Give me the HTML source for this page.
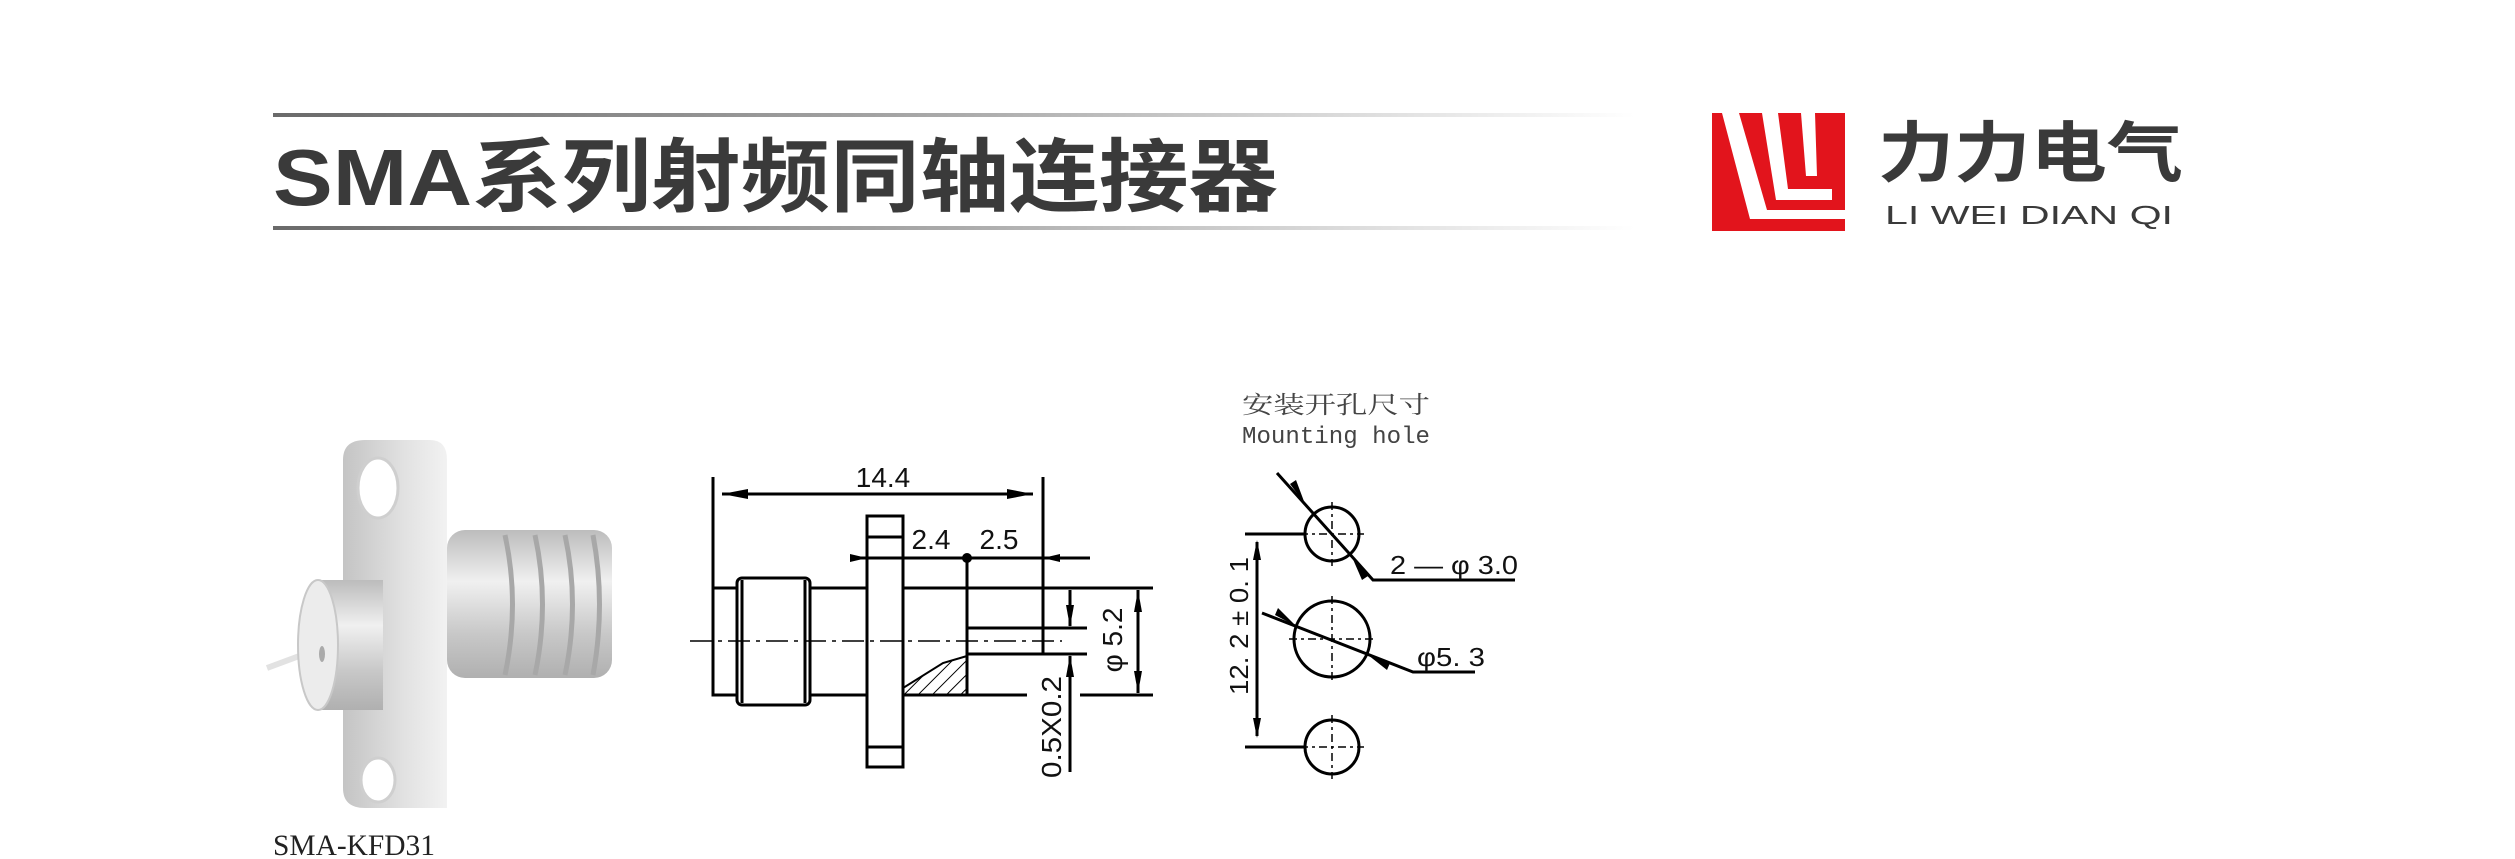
<!DOCTYPE html>
<html><head><meta charset="utf-8"><style>
html,body{margin:0;padding:0;background:#fff;}
svg{display:block;}
</style></head><body>
<svg width="2515" height="859" viewBox="0 0 2515 859" xmlns="http://www.w3.org/2000/svg">
<defs>
<linearGradient id="ln" x1="0" x2="1" y1="0" y2="0">
<stop offset="0" stop-color="#6a6a6a"/><stop offset="0.5" stop-color="#aaaaaa"/><stop offset="1" stop-color="#ffffff"/>
</linearGradient>
<linearGradient id="cyl" x1="0" x2="0" y1="0" y2="1">
<stop offset="0" stop-color="#bcbcbc"/><stop offset="0.35" stop-color="#f0f0f0"/><stop offset="0.7" stop-color="#c8c8c8"/><stop offset="1" stop-color="#b0b0b0"/>
</linearGradient>
<linearGradient id="fl" x1="0" x2="1" y1="0" y2="0">
<stop offset="0" stop-color="#c4c4c4"/><stop offset="0.6" stop-color="#e2e2e2"/><stop offset="1" stop-color="#f2f2f2"/>
</linearGradient>
<pattern id="hatch" width="10" height="10" patternUnits="userSpaceOnUse" patternTransform="rotate(45)">
<line x1="0" y1="0" x2="0" y2="10" stroke="#000" stroke-width="2"/>
</pattern>
</defs>

<rect x="273" y="113" width="1362" height="4" fill="url(#ln)"/>
<rect x="273" y="226" width="1362" height="4" fill="url(#ln)"/>
<text x="273" y="205" font-family="'Liberation Sans','Noto Sans CJK SC',sans-serif" font-weight="bold" font-size="80" fill="#3a3a3a" textLength="1005" lengthAdjust="spacingAndGlyphs">SMA系列射频同轴连接器</text>

<rect x="1712" y="113" width="133" height="118" fill="#e2141c"/>
<polygon points="1722,113 1739,113 1767,210 1845,210 1845,219 1750,219" fill="#fff"/>
<polygon points="1762,113 1778,113 1788,189 1832,189 1832,200 1776,200" fill="#fff"/>
<polygon points="1801,113 1815,113 1817,176 1806,176" fill="#fff"/>
<text x="1878" y="176" font-family="'Noto Sans CJK SC',sans-serif" font-weight="bold" font-size="66" fill="#3a3a3a" textLength="305" lengthAdjust="spacingAndGlyphs">力力电气</text>
<text x="1885" y="224" font-family="'Liberation Sans',sans-serif" font-size="26" fill="#3a3a3a" textLength="288" lengthAdjust="spacingAndGlyphs">LI WEI DIAN QI</text>

<line x1="267" y1="668" x2="310" y2="652" stroke="#e2e2e2" stroke-width="6"/>
<rect x="447" y="530" width="165" height="148" rx="18" fill="url(#cyl)"/>
<g stroke="#a8a8a8" stroke-width="5" fill="none">
<path d="M505 535 Q520 604 505 675"/><path d="M535 535 Q550 604 535 675"/><path d="M565 535 Q580 604 565 675"/><path d="M593 535 Q606 604 593 675"/>
</g>
<path d="M343 460 Q343 440 365 440 L430 440 Q447 440 447 460 L447 808 L365 808 Q343 808 343 788 Z" fill="url(#fl)"/>
<ellipse cx="378" cy="488" rx="20" ry="30" fill="#fff" stroke="#cfcfcf" stroke-width="3"/>
<ellipse cx="378" cy="780" rx="17" ry="22" fill="#fff" stroke="#cfcfcf" stroke-width="3"/>
<rect x="318" y="580" width="65" height="130" fill="url(#cyl)"/>
<ellipse cx="318" cy="645" rx="20" ry="65" fill="#ececec" stroke="#c8c8c8" stroke-width="2"/>
<ellipse cx="322" cy="654" rx="3" ry="8" fill="#aaa"/>
<text x="273" y="855" font-family="'Liberation Serif',serif" font-size="30" fill="#222" textLength="162" lengthAdjust="spacingAndGlyphs">SMA-KFD31</text>

<g stroke="#000" stroke-width="3" fill="none">
<line x1="713" y1="477" x2="713" y2="590"/>
<line x1="1043" y1="477" x2="1043" y2="653"/>
<line x1="722" y1="494" x2="1033" y2="494"/>
<rect x="713" y="588" width="24" height="107"/>
<rect x="737" y="578" width="73" height="127" rx="5"/>
<line x1="742" y1="580" x2="742" y2="703"/><line x1="805" y1="580" x2="805" y2="703"/>
<line x1="810" y1="588" x2="867" y2="588"/><line x1="810" y1="695" x2="867" y2="695"/>
<rect x="867" y="516" width="36" height="251"/>
<line x1="867" y1="537" x2="903" y2="537"/><line x1="867" y1="747" x2="903" y2="747"/>
<line x1="903" y1="588" x2="1153" y2="588"/>
<line x1="903" y1="695" x2="1027" y2="695"/>
<line x1="1080" y1="695" x2="1153" y2="695"/>
<line x1="967" y1="556" x2="967" y2="695"/>
<rect x="967" y="628" width="76" height="26"/>
<line x1="1043" y1="628" x2="1087" y2="628"/><line x1="1043" y1="654" x2="1087" y2="654"/>
<line x1="850" y1="558" x2="1090" y2="558"/>
<line x1="1138" y1="590" x2="1138" y2="693"/>
<line x1="1070" y1="590" x2="1070" y2="626"/>
<line x1="1070" y1="656" x2="1070" y2="772"/>
</g>
<line x1="690" y1="641" x2="1062" y2="641" stroke="#000" stroke-width="1.5" stroke-dasharray="22,6,4,6"/>
<polygon points="903,695 903,688 943,663 967,656 967,695" fill="url(#hatch)" stroke="#000" stroke-width="2"/>
<g fill="#000">
<polygon points="722,494 748,489 748,499"/><polygon points="1033,494 1007,489 1007,499"/>
<polygon points="867,558 850,554 850,562"/><polygon points="1043,558 1060,554 1060,562"/>
<circle cx="967" cy="558" r="5"/>
<polygon points="1138,590 1134,612 1142,612"/><polygon points="1138,693 1134,671 1142,671"/>
<polygon points="1070,627 1066,605 1074,605"/><polygon points="1070,655 1066,677 1074,677"/>
</g>
<g font-family="'Liberation Sans',sans-serif" font-size="28" fill="#111">
<text x="883" y="487" text-anchor="middle">14.4</text>
<text x="931" y="549" text-anchor="middle">2.4</text>
<text x="999" y="549" text-anchor="middle">2.5</text>
<text transform="translate(1122,640) rotate(-90)" text-anchor="middle">φ  5.2</text>
<text transform="translate(1061,727) rotate(-90)" text-anchor="middle" textLength="102" lengthAdjust="spacingAndGlyphs">0.5X0.2</text>
</g>

<text x="1242" y="413" font-family="'Noto Serif CJK SC',serif" font-size="24" fill="#444" textLength="188" lengthAdjust="spacingAndGlyphs">安装开孔尺寸</text>
<text x="1242" y="443" font-family="'Liberation Mono',monospace" font-size="24" fill="#444" textLength="188" lengthAdjust="spacingAndGlyphs">Mounting hole</text>
<g stroke="#000" stroke-width="3" fill="none">
<circle cx="1332" cy="534" r="27"/>
<circle cx="1332" cy="639" r="38"/>
<circle cx="1332" cy="747" r="27"/>
<line x1="1245" y1="534" x2="1305" y2="534"/>
<line x1="1245" y1="747" x2="1305" y2="747"/>
<line x1="1257" y1="542" x2="1257" y2="736"/>
<polyline points="1277,473 1373,580 1515,580"/>
<polyline points="1262,613 1413,672 1475,672"/>
</g>
<g stroke="#000" stroke-width="1.5" stroke-dasharray="8,4,3,4">
<line x1="1332" y1="502" x2="1332" y2="566"/><line x1="1300" y1="534" x2="1364" y2="534"/>
<line x1="1332" y1="596" x2="1332" y2="682"/><line x1="1289" y1="639" x2="1375" y2="639"/>
<line x1="1332" y1="715" x2="1332" y2="779"/><line x1="1300" y1="747" x2="1364" y2="747"/>
</g>
<g fill="#000">
<polygon points="1257,540 1253,560 1261,560"/><polygon points="1257,738 1253,718 1261,718"/>
<polygon points="1305,504 1290,484 1296,480"/><polygon points="1352,557 1368,576 1362,580"/>
<polygon points="1296,626 1275,615 1278,608"/><polygon points="1368,655 1390,663 1387,670"/>
</g>
<g font-family="'Liberation Sans',sans-serif" font-size="26" fill="#111">
<text x="1390" y="574" textLength="128" lengthAdjust="spacingAndGlyphs">2 — φ  3.0</text>
<text x="1417" y="666" textLength="68" lengthAdjust="spacingAndGlyphs">φ5. 3</text>
<text transform="translate(1248,626) rotate(-90)" text-anchor="middle" textLength="138" lengthAdjust="spacingAndGlyphs">12. 2 ± 0. 1</text>
</g>
</svg>
</body></html>
